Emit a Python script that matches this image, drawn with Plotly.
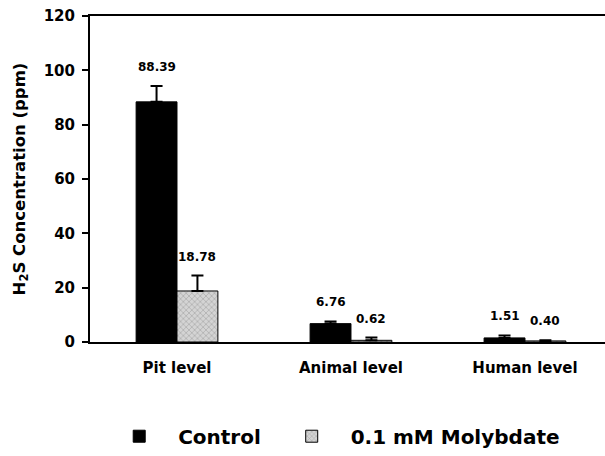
import plotly.graph_objects as go

categories = ["Pit level", "Animal level", "Human level"]
control = [88.39, 6.76, 1.51]
control_err = [5.8, 0.8, 0.9]
molybdate = [18.78, 0.62, 0.40]
molybdate_err = [5.7, 1.0, 0.2]
y_ticks = [0, 20, 40, 60, 80, 100, 120]

bw = 0.235
xs = list(range(len(categories)))
FONT = "DejaVu Sans"
NB = "\u00a0"

fig = go.Figure()
fig.add_trace(go.Bar(
    x=xs, y=control, width=bw, offset=-bw, name=NB*2 + "Control" + NB*3,
    marker=dict(color="black", line=dict(color="black", width=1)),
    error_y=dict(type="data", array=control_err, arrayminus=[0]*3, symmetric=False,
                 color="black", thickness=2, width=6),
))
fig.add_trace(go.Bar(
    x=xs, y=molybdate, width=bw, offset=0, name=NB*2 + "0.1 mM Molybdate",
    marker=dict(color="#d0d0d0", line=dict(color="black", width=1),
                pattern=dict(shape="x", fgcolor="#7a7a7a", bgcolor="#d4d4d4", size=4, solidity=0.3)),
    error_y=dict(type="data", array=molybdate_err, arrayminus=[0]*3, symmetric=False,
                 color="black", thickness=2, width=6),
))

for i in xs:
    fig.add_annotation(x=i - bw/2, y=control[i] + control_err[i], text=f"{control[i]:.2f}",
                       showarrow=False, yanchor="bottom", yshift=10,
                       font=dict(family=FONT, size=12, color="black", weight="bold"))
    fig.add_annotation(x=i + bw/2, y=molybdate[i] + molybdate_err[i], text=f"{molybdate[i]:.2f}",
                       showarrow=False, yanchor="bottom", yshift=10,
                       font=dict(family=FONT, size=12, color="black", weight="bold"))

fig.update_layout(
    width=605, height=456,
    margin=dict(l=90, r=0, t=16, b=111),
    plot_bgcolor="white", paper_bgcolor="white",
    font=dict(family=FONT, color="black", weight="bold"),
    barmode="overlay",
    showlegend=True,
    legend=dict(orientation="h", x=0.047, xanchor="left", y=-0.289, yanchor="middle",
                font=dict(family=FONT, size=20, color="black", weight="bold"),
                itemwidth=40, traceorder="normal"),
    xaxis=dict(range=[-0.5, 2.46], tickvals=xs, ticktext=categories, showline=True,
               linecolor="black", linewidth=2, mirror=True, ticks="", showgrid=False,
               zeroline=False, ticklabelstandoff=11,
               tickfont=dict(family=FONT, size=15, color="black", weight="bold")),
    yaxis=dict(range=[0, 120], tickvals=y_ticks, showline=True, linecolor="black", linewidth=2,
               ticks="outside", ticklen=6, tickwidth=2, tickcolor="black", showgrid=False,
               zeroline=False, ticklabelstandoff=4,
               tickfont=dict(family=FONT, size=15, color="black", weight="bold"),
               title=dict(text="H<sub>2</sub>S Concentration (ppm)", standoff=14,
                          font=dict(family=FONT, size=16.5, color="black", weight="bold"))),
)

fig.write_html("out.html")
